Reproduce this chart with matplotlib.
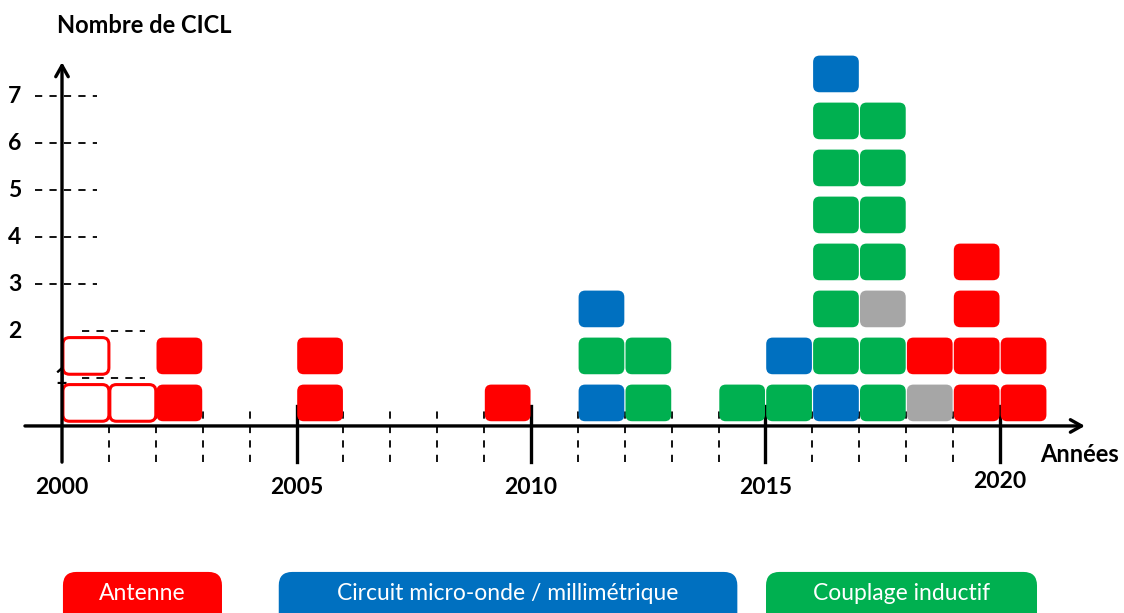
import matplotlib
matplotlib.use('Agg')
import matplotlib.pyplot as plt
from matplotlib.patches import FancyBboxPatch

plt.rcParams['font.family'] = ['Lato', 'DejaVu Sans']

# one column per year, squares listed from bottom to top
# A antenne, C circuit micro-onde, I couplage inductif, O autre, a antenne (contour)
years = [2000, 2001, 2002, 2005, 2009, 2011, 2012, 2014, 2015, 2016, 2017, 2018, 2019, 2020]
stacks = ['aa', 'a', 'AA', 'AA', 'A', 'CIC', 'II', 'I', 'IC',
          'CIIIIIIC', 'IIOIIII', 'OA', 'AAAA', 'AA']

colors = {'A': '#FF0000', 'C': '#0070C0', 'I': '#00B050', 'O': '#A6A6A6'}
legend_labels = ['Antenne', 'Circuit micro-onde / millimétrique', 'Couplage inductif']
legend_keys = ['A', 'C', 'I']

y_ticks = [2, 3, 4, 5, 6, 7]
x_labels = [2000, 2005, 2010, 2015, 2020]


def main():
    fig = plt.figure(figsize=(11.24, 6.13), dpi=100)
    ax = fig.add_axes([0, 0, 1, 1])
    ax.set_xlim(1998.678, 2022.644)
    ax.set_ylim(-4.0, 9.043)
    ax.axis('off')

    # axes with arrows
    arrow = dict(arrowstyle='->,head_length=0.8,head_width=0.45', lw=2.4,
                 color='black', shrinkA=0, shrinkB=0)
    ax.annotate('', xy=(2021.81, -0.02), xytext=(1999.21, -0.02), arrowprops=arrow, zorder=4)
    ax.annotate('', xy=(2000, 7.72), xytext=(2000, -0.79), arrowprops=arrow, zorder=4)

    # year ticks
    for yr in range(2001, 2021):
        if yr in x_labels:
            ax.plot([yr, yr], [-0.79, 0.4], color='black', lw=2.4, zorder=1)
        else:
            ax.plot([yr, yr], [-0.79, 0.4], color='black', lw=1.3,
                    ls=(0, (4, 4)), zorder=1)
    for yr in x_labels:
        ax.text(yr, -1.33 if yr != 2020 else -1.21, str(yr), ha='center', va='center',
                fontsize=16.5, fontweight='bold')

    # horizontal guides
    for v in y_ticks:
        ax.text(1998.99, v, str(v), ha='center', va='center', fontsize=16.5, fontweight='bold')
        if v >= 3:
            ax.plot([1999.42, 2000.75], [v, v], color='black', lw=1.3, ls=(0, (4, 4)), zorder=1)
    ax.plot([2000.43, 2001.77], [1.99, 1.99], color='black', lw=1.3, ls=(0, (4, 4)), zorder=1)
    ax.plot([2000.43, 2001.77], [0.99, 0.99], color='black', lw=1.3, ls=(0, (4, 4)), zorder=1)
    ax.text(1999.97, 1.02, '1', ha='center', va='center', fontsize=16,
            fontweight='bold', zorder=0)

    # squares
    for yr, stack in zip(years, stacks):
        for row, key in enumerate(stack):
            if key == 'a':
                patch = FancyBboxPatch((yr + 0.02, row + 0.08), 0.98, 0.78,
                                       boxstyle='round,pad=0,rounding_size=0.14',
                                       facecolor='white', edgecolor='#FF0000',
                                       lw=2.2, zorder=3)
            else:
                patch = FancyBboxPatch((yr + 0.015, row + 0.08), 0.975, 0.78,
                                       boxstyle='round,pad=0,rounding_size=0.14',
                                       facecolor=colors[key], edgecolor='none', zorder=3)
            ax.add_patch(patch)

    # titles
    ax.text(0.051, 0.958, 'Nombre de CICL', transform=ax.transAxes, ha='left',
            va='center', fontsize=17, fontweight='bold')
    ax.text(0.995, 0.258, 'Années', transform=ax.transAxes, ha='right',
            va='center', fontsize=17, fontweight='bold')

    # legend boxes
    boxes = [(0.056, 0.1975), (0.248, 0.656), (0.6815, 0.9226)]
    for (x0, x1), label, key in zip(boxes, legend_labels, legend_keys):
        box = FancyBboxPatch((x0, -0.03), x1 - x0, 0.097, transform=ax.transAxes,
                             boxstyle='round,pad=0,rounding_size=0.012',
                             facecolor=colors[key], edgecolor='none',
                             mutation_aspect=1124 / 613, clip_on=False)
        ax.add_patch(box)
        ax.text((x0 + x1) / 2, 0.031, label, transform=ax.transAxes, ha='center',
                va='center', fontsize=16.5, color='white')

    fig.savefig('out.png', dpi=100)


if __name__ == '__main__':
    main()
